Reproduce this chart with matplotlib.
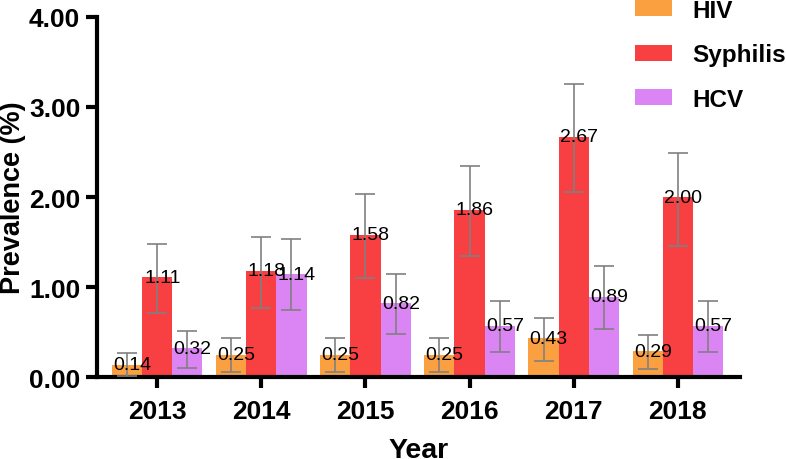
import matplotlib
matplotlib.use("Agg")
import matplotlib.pyplot as plt
import numpy as np
from matplotlib.patches import Patch

plt.rcParams['font.family'] = ['Liberation Sans', 'DejaVu Sans']

years = ['2013', '2014', '2015', '2016', '2017', '2018']
series = ['HIV', 'Syphilis', 'HCV']
hiv = [0.14, 0.25, 0.25, 0.25, 0.43, 0.29]
syph = [1.11, 1.18, 1.58, 1.86, 2.67, 2.00]
hcv = [0.32, 1.14, 0.82, 0.57, 0.89, 0.57]
hiv_lo = [0.01, 0.06, 0.06, 0.06, 0.18, 0.09]
hiv_hi = [0.27, 0.43, 0.43, 0.43, 0.66, 0.47]
syph_lo = [0.71, 0.77, 1.10, 1.35, 2.06, 1.46]
syph_hi = [1.48, 1.56, 2.03, 2.34, 3.25, 2.49]
hcv_lo = [0.10, 0.74, 0.48, 0.28, 0.53, 0.28]
hcv_hi = [0.51, 1.53, 1.15, 0.84, 1.23, 0.84]
colors = ['#FBA040', '#F83F41', '#DB85F4']

fig = plt.figure(figsize=(7.86, 4.6), dpi=100)
ax = fig.add_axes([0.1234, 0.178, 0.818, 0.783])

x = np.arange(len(years))
w = 0.29
vals = [hiv, syph, hcv]
los = [hiv_lo, syph_lo, hcv_lo]
his = [hiv_hi, syph_hi, hcv_hi]
for i in range(3):
    xi = x + (i - 1) * w
    v = np.array(vals[i])
    yerr = [v - np.array(los[i]), np.array(his[i]) - v]
    ax.bar(xi, v, width=w, color=colors[i], zorder=2)
    ax.errorbar(xi, v, yerr=yerr, fmt='none', ecolor='#808080', elinewidth=1.2,
                capsize=7.5, capthick=1.2, zorder=3)
    for xx, vv in zip(xi, v):
        ax.text(xx + 0.05, vv, f'{vv:.2f}', ha='center', va='center', fontsize=14,
                color='black', zorder=4)

ax.set_xlim(-0.577, 5.596)
ax.set_ylim(0, 4)
ax.set_yticks([0, 1, 2, 3, 4])
ax.set_yticklabels(['0.00', '1.00', '2.00', '3.00', '4.00'])
ax.set_xticks(x)
ax.set_xticklabels(years)
for lab in ax.get_xticklabels() + ax.get_yticklabels():
    lab.set_fontweight('bold')
    lab.set_fontsize(19)
ax.spines['top'].set_visible(False)
ax.spines['right'].set_visible(False)
ax.spines['left'].set_linewidth(3)
ax.spines['bottom'].set_linewidth(3)
ax.tick_params(axis='both', width=3, length=8, direction='out')
ax.tick_params(axis='y', pad=4)
ax.tick_params(axis='x', pad=8)
ax.set_ylabel('Prevalence (%)', fontsize=19.5, fontweight='bold', labelpad=2)
ax.set_xlabel('Year', fontsize=20.5, fontweight='bold', labelpad=10)

handles = [Patch(facecolor=c, edgecolor='none') for c in colors]
fig.legend(handles, series, loc='upper left', bbox_to_anchor=(0.795, 1.022),
           frameon=False, prop={'weight': 'bold', 'size': 17.5},
           handlelength=1.52, handleheight=0.62, handletextpad=0.86,
           labelspacing=0.89, borderaxespad=0)

fig.savefig('out.png', dpi=100)
